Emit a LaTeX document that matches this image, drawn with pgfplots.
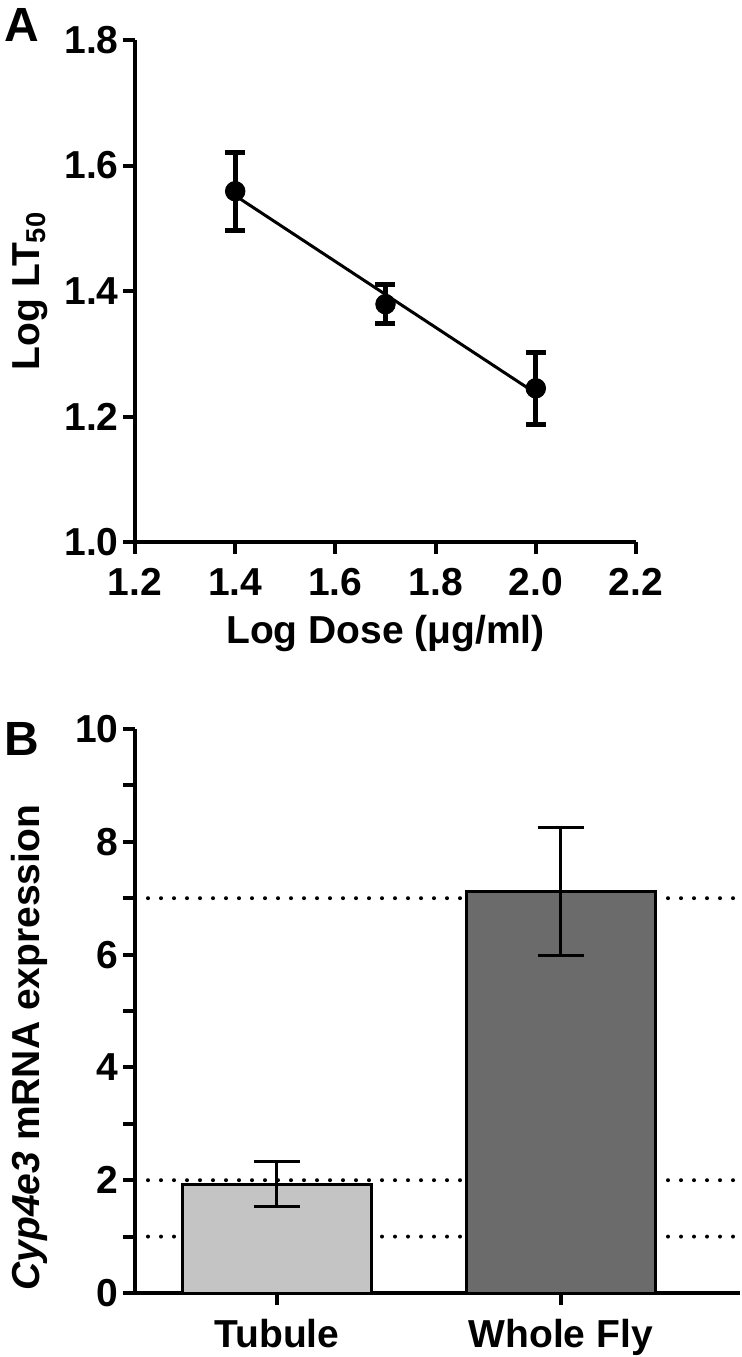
\documentclass[border=0pt]{standalone}
\usepackage{pgfplots}
\pgfplotsset{compat=1.18}
\usepackage{fontspec}
\setmainfont{Liberation Sans}
\definecolor{tubgray}{HTML}{C4C4C4}
\definecolor{flygray}{HTML}{6B6B6B}
\pgfplotstableread{
x y e
1.4 1.559 0.062
1.7 1.379 0.031
2.0 1.245 0.057
}\doseA
\newcommand{\lblfont}{\fontsize{19.5}{23}\selectfont\bfseries}
\begin{document}
\begin{tikzpicture}[font=\lblfont]
\useasboundingbox (0pt,0pt) rectangle (371pt,678.5pt);
\pgfplotsset{
 common/.style={
  scale only axis,
  axis lines=left,
  axis line style={line width=2pt,-},
  tick style={line width=2pt,black},
  tick align=outside,
  major tick length=6pt, minor tick length=6pt,
  /pgf/number format/assume math mode=true,
  tick label style={font=\lblfont},
  label style={font=\lblfont},
  xticklabel style={inner sep=1pt, yshift=-6pt},
  yticklabel style={inner sep=2pt},
 }
}
\begin{axis}[common, at={(67.5pt,407.5pt)}, anchor=south west, width=250.5pt, height=251pt,
 xmin=1.2, xmax=2.2, ymin=1.0, ymax=1.8,
 xtick={1.2,1.4,1.6,1.8,2.0,2.2}, ytick={1.0,1.2,1.4,1.6,1.8},
 xticklabel style={/pgf/number format/.cd,fixed,fixed zerofill,precision=1},
 yticklabel style={/pgf/number format/.cd,fixed,fixed zerofill,precision=1},
 xlabel={Log Dose (μg/ml)}, ylabel={Log LT\textsubscript{50}},
 xlabel style={at={(axis description cs:0.5,-0.183)},anchor=center},
 ylabel style={at={(axis description cs:-0.21,0.5)},anchor=center},
 clip=false]
\addplot[black, line width=1.5pt, no markers] coordinates {(1.4,1.552) (2.0,1.237)};
\addplot[black, only marks, mark=*, mark size=4.9pt,
 error bars/.cd, y dir=both, y explicit,
 error bar style={line width=2.5pt,black},
 error mark options={rotate=90, mark size=5pt, line width=2.5pt, black}]
 table[x=x, y=y, y error=e] {\doseA};
\end{axis}
\begin{axis}[common, at={(67.5pt,32pt)}, anchor=south west, width=302.5pt, height=282pt,
 xmin=-0.5, xmax=1.632, ymin=0, ymax=10,
 xtick={0,1}, xticklabels={Tubule, Whole Fly},
 ytick={0,2,4,6,8,10}, minor ytick={1,3,5,7,9},
 ylabel={\textit{Cyp4e3} mRNA expression},
 ylabel style={at={(axis description cs:-0.174,0.435)},anchor=center}]
\addplot[black, line width=2pt, dash pattern=on 0pt off 6.5pt, line cap=round, forget plot] coordinates {(-0.5,7) (1.632,7)};
\addplot[black, line width=2pt, dash pattern=on 0pt off 6.5pt, line cap=round, forget plot] coordinates {(-0.5,2) (1.632,2)};
\addplot[black, line width=2pt, dash pattern=on 0pt off 6.5pt, line cap=round, forget plot] coordinates {(-0.5,1) (1.632,1)};
\addplot[ybar, bar width=0.667, bar shift=0pt, fill=tubgray, draw=black, line width=1.5pt,
 error bars/.cd, y dir=both, y explicit,
 error bar style={line width=1.5pt,black},
 error mark options={rotate=90, mark size=11.5pt, line width=1.5pt, black}]
 coordinates {(0,1.92) += (0,0.42) -= (0,0.38)};
\addplot[ybar, bar width=0.667, bar shift=0pt, fill=flygray, draw=black, line width=1.5pt,
 error bars/.cd, y dir=both, y explicit,
 error bar style={line width=1.5pt,black},
 error mark options={rotate=90, mark size=11.5pt, line width=1.5pt, black}]
 coordinates {(1,7.12) += (0,1.13) -= (0,1.14)};
\end{axis}
\node[font=\fontsize{24}{28}\selectfont\bfseries] at (10.75pt,666pt) {A};
\node[font=\fontsize{24}{28}\selectfont\bfseries] at (11pt,309pt) {B};
\end{tikzpicture}
\end{document}
